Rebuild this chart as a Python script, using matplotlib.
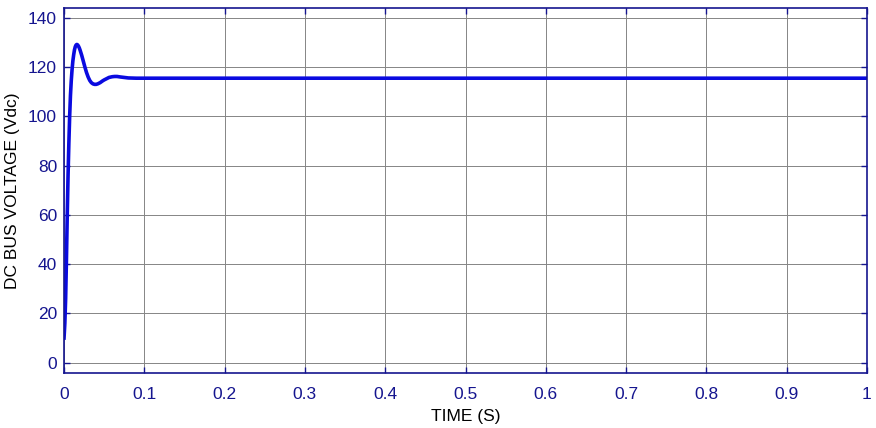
import matplotlib
matplotlib.use("Agg")
import matplotlib.pyplot as plt

plt.rcParams['font.family'] = ['Liberation Sans', 'DejaVu Sans']

# DC bus voltage (time in s, voltage in Vdc)
time_s = [0.0, 0.001, 0.002, 0.003, 0.004, 0.005, 0.006, 0.007, 0.008, 0.009,
          0.010, 0.011, 0.012, 0.013, 0.014, 0.015, 0.016, 0.017, 0.018, 0.019,
          0.020, 0.022, 0.024, 0.026, 0.028, 0.030, 0.032, 0.034, 0.036, 0.038,
          0.040, 0.042, 0.045, 0.048, 0.050, 0.053, 0.056, 0.060, 0.063, 0.066,
          0.070, 0.075, 0.080, 0.090, 0.100, 0.200, 0.400, 0.600, 0.800, 1.0]
voltage = [10.0, 16.0, 26.0, 42.0, 60.0, 76.0, 89.0, 100.0, 108.5, 114.5,
           119.0, 122.5, 125.0, 127.0, 128.3, 129.0, 129.2, 129.0, 128.5, 127.8,
           126.9, 124.8, 122.4, 120.0, 117.8, 116.0, 114.6, 113.7, 113.2, 113.0,
           113.0, 113.2, 113.7, 114.4, 114.8, 115.3, 115.8, 116.1, 116.2, 116.2,
           116.0, 115.8, 115.6, 115.5, 115.5, 115.5, 115.5, 115.5, 115.5, 115.5]
x_ticks = [0, 0.1, 0.2, 0.3, 0.4, 0.5, 0.6, 0.7, 0.8, 0.9, 1]
x_ticklabels = ['0', '0.1', '0.2', '0.3', '0.4', '0.5', '0.6', '0.7', '0.8', '0.9', '1']
y_ticks = [0, 20, 40, 60, 80, 100, 120, 140]

axis_col = '#15158f'

fig = plt.figure(figsize=(8.76, 4.28), dpi=100)
ax = fig.add_axes([0.0731, 0.1285, 0.9166, 0.8528])

ax.plot(time_s, voltage, color='#0a0ae0', linewidth=2.6)

ax.set_xlim(0, 1)
ax.set_ylim(-4.2, 144)
ax.set_xticks(x_ticks)
ax.set_xticklabels(x_ticklabels)
ax.set_yticks(y_ticks)
ax.grid(True, color='#858585', linewidth=0.7)
ax.tick_params(direction='in', top=True, right=True, colors=axis_col,
               labelsize=12.5, length=4.5, width=1)
ax.tick_params(axis='x', pad=10)
ax.tick_params(axis='y', pad=5)
for s in ax.spines.values():
    s.set_color(axis_col)
    s.set_linewidth(1.2)

ax.set_xlabel('TIME (S)', fontsize=12.5, color='black', labelpad=5)
ax.set_ylabel('DC BUS VOLTAGE (Vdc)', fontsize=12.5, color='black', labelpad=6)

fig.savefig('out.png', dpi=100)
